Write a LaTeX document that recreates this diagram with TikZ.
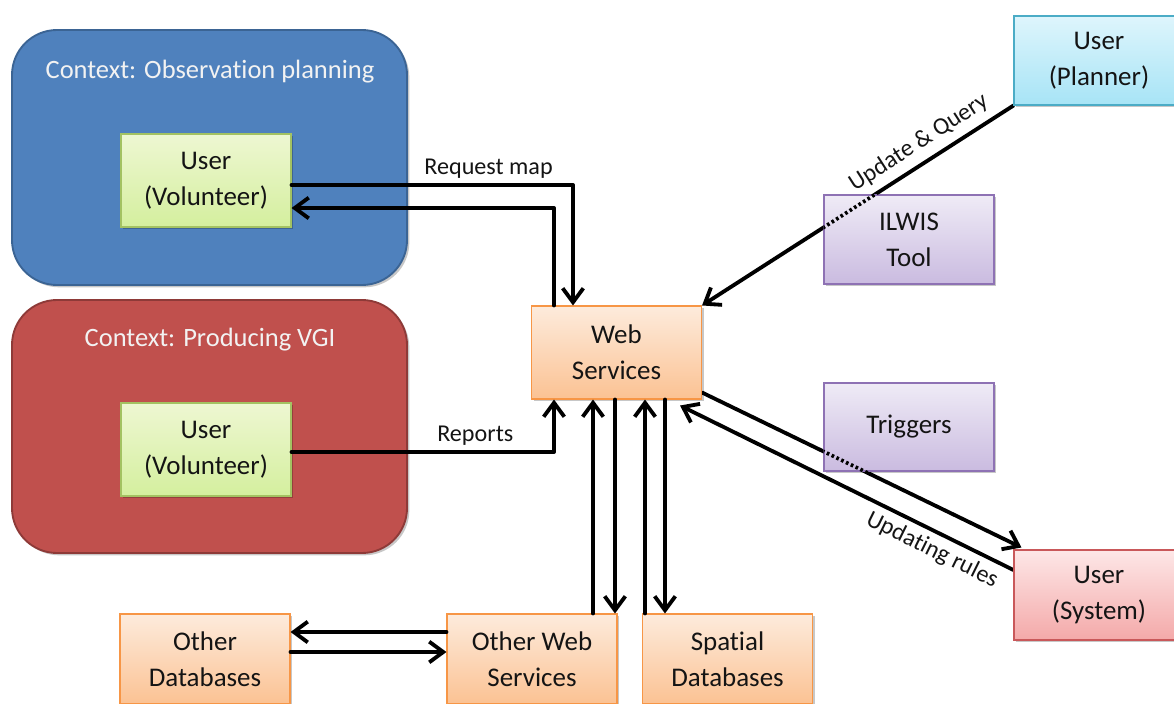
\documentclass[tikz,border=0pt]{standalone}
\usepackage{fontspec}
\setmainfont{Carlito}[Ligatures=NoCommon]
\usetikzlibrary{arrows.meta,calc,shadows}

\definecolor{ctxblue}{HTML}{4F81BD}
\definecolor{ctxblueline}{HTML}{3B6494}
\definecolor{ctxred}{HTML}{C0504D}
\definecolor{ctxredline}{HTML}{8E3A38}
\definecolor{grtop}{HTML}{EEF7D2}
\definecolor{grbot}{HTML}{D4EF9E}
\definecolor{grline}{HTML}{A3C262}
\definecolor{ortop}{HTML}{FDEBDC}
\definecolor{orbot}{HTML}{FBC293}
\definecolor{orline}{HTML}{F79646}
\definecolor{pptop}{HTML}{EFEBF6}
\definecolor{ppbot}{HTML}{CABBE0}
\definecolor{ppline}{HTML}{8E72B4}
\definecolor{cytop}{HTML}{DEF5FC}
\definecolor{cybot}{HTML}{A7E4F6}
\definecolor{cyline}{HTML}{4BACC6}
\definecolor{pktop}{HTML}{FDE7E7}
\definecolor{pkbot}{HTML}{F4A9A9}
\definecolor{pkline}{HTML}{C9585A}
\definecolor{ink}{HTML}{141414}

\pgfdeclarelayer{behind}
\pgfsetlayers{behind,main}

\tikzset{
  softshadow/.style={drop shadow={shadow xshift=0.07cm, shadow yshift=-0.07cm, opacity=0.22, fill=black}},
  box/.style={rectangle, line width=0.9pt, minimum width=5.1cm, minimum height=2.7cm,
    inner sep=0pt, align=center, text=ink, font=\fontsize{23}{30.5}\selectfont, softshadow},
  greenbox/.style={box, draw=grline, top color=grtop, bottom color=grbot},
  orangebox/.style={box, draw=orline, top color=ortop, bottom color=orbot},
  purplebox/.style={box, draw=ppline, top color=pptop, bottom color=ppbot},
  cyanbox/.style={box, draw=cyline, top color=cytop, bottom color=cybot},
  pinkbox/.style={box, draw=pkline, top color=pktop, bottom color=pkbot},
  ctxbox/.style={rectangle, rounded corners=1.35cm, line width=1.6pt, inner sep=0pt,
    minimum width=11.85cm, softshadow},
  ctxtitle/.style={text=white!95!black, font=\fontsize{22.6}{26}\selectfont, inner sep=0pt},
  lbl/.style={text=ink, font=\fontsize{20.6}{24}\selectfont, inner sep=3pt},
  arr/.style={draw=black, line width=0.115cm, line cap=round, line join=round,
    -{Straight Barb[length=0.42cm, width=0.62cm]}},
  dots/.style={draw=black, line width=0.11cm, dash pattern=on 0.08cm off 0.08cm}
}

\begin{document}
\begin{tikzpicture}[x=0.03cm, y=-0.03cm]
\useasboundingbox (0,0) rectangle (1174,704);
\clip (0,0) rectangle (1174,704);

% context panels
\node[ctxbox, fill=ctxblue, draw=ctxblueline, minimum height=7.65cm] (obs) at (209.5,157.5) {};
\node[ctxtitle] (obstitle) at (210,72) {Context: Observation planning};
\node[ctxbox, fill=ctxred, draw=ctxredline, minimum height=7.59cm] (vgi) at (209.5,426.5) {};
\node[ctxtitle] (vgititle) at (210,340) {Context: Producing VGI};

% actors and services
\node[greenbox, minimum height=2.79cm] (green1) at (206,180.5) {User\\(Volunteer)};
\node[greenbox, minimum height=2.79cm] (green2) at (206,449.5) {User\\(Volunteer)};
\node[orangebox, minimum height=2.79cm] (ws) at (616.5,352.5) {Web\\Services};
\node[purplebox, minimum height=2.67cm] (ilwis) at (909,239.5) {ILWIS\\Tool};
\node[purplebox, minimum height=2.64cm] (triggers) at (909,427) {Triggers};
\node[cyanbox, minimum height=2.67cm] (planner) at (1099,60.5) {User\\(Planner)};
\node[pinkbox] (system) at (1099,595) {User\\(System)};
\node[orangebox] (otherdb) at (205,659) {Other\\Databases};
\node[orangebox] (ows) at (532,659) {Other Web\\Services};
\node[orangebox] (spatial) at (727.5,659) {Spatial\\Databases};

% x positions of the vertical runs
\coordinate (c554) at (554,0);
\coordinate (c573) at (573,0);
\coordinate (c593) at (593,0);
\coordinate (c615) at (615,0);
\coordinate (c645) at (645,0);
\coordinate (c665) at (665,0);

% volunteer exchanges
\draw[arr] ($(green1.east)+(0,4.5)$) -| node[lbl, pos=0.35, above=1pt] {Request map} (ws.north -| c573);
\draw[arr] (ws.north -| c554) |- ($(green1.east)+(0,27.5)$);
\draw[arr] ($(green2.east)+(0,2.5)$) -| node[lbl, pos=0.35, above=1pt] {Reports} (ws.south -| c554);

% services below
\draw[arr] (ows.north -| c593) -- (ws.south -| c593);
\draw[arr] (ws.south -| c615) -- (ows.north -| c615);
\draw[arr] (spatial.north -| c645) -- (ws.south -| c645);
\draw[arr] (ws.south -| c665) -- (spatial.north -| c665);
\draw[arr] ($(ows.west)+(0,-27)$) -- ($(otherdb.east)+(0,-27)$);
\draw[arr] ($(otherdb.east)+(0,-7)$) -- ($(ows.west)+(0,-7)$);

% diagonal links pass behind the tool boxes
\begin{pgfonlayer}{behind}
\draw[arr] (planner.south west) -- node[lbl, sloped, pos=0.27, above=3.5pt] {Update \& Query} (ws.north east);
\draw[arr] ($(ws.south east)+(0,-7)$) -- ($(system.north west)+(8,-2)$);
\draw[arr] ($(system.west)+(0,-25)$) -- node[lbl, sloped, pos=0.22, below=2pt] {Updating rules} ($(ws.south east)+(-22,6)$);
\end{pgfonlayer}

% dotted traces where the links cross the boxes
\begin{scope}
\clip (ilwis.south west) rectangle (ilwis.north east);
\draw[dots] (planner.south west) -- (ws.north east);
\end{scope}
\begin{scope}
\clip (triggers.south west) rectangle (triggers.north east);
\draw[dots] ($(ws.south east)+(0,-7)$) -- ($(system.north west)+(8,-2)$);
\end{scope}
\end{tikzpicture}
\end{document}
